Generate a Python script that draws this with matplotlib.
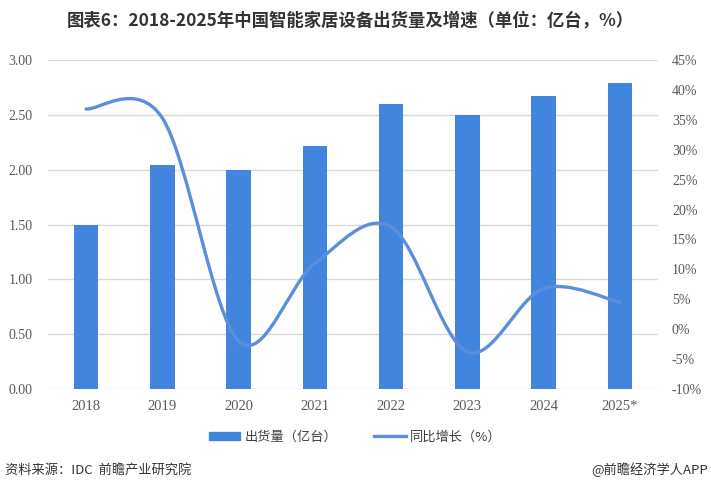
import matplotlib
matplotlib.use("Agg")
import matplotlib.pyplot as plt
import numpy as np
from matplotlib.path import Path
from matplotlib.patches import PathPatch, Patch
from matplotlib.lines import Line2D

plt.rcParams['font.family'] = ['Noto Sans CJK SC', 'DejaVu Sans']

years = ['2018', '2019', '2020', '2021', '2022', '2023', '2024', '2025*']
shipments = [1.50, 2.04, 2.00, 2.22, 2.60, 2.50, 2.67, 2.79]   # 出货量（亿台）
growth = [36.8, 35.3, -2.0, 11.0, 17.1, -3.8, 6.8, 4.5]         # 同比增长（%）

bar_color = '#4285DF'
line_color = '#5B8FDB'
tick_color = '#595959'
serif = ['Liberation Serif', 'DejaVu Serif']

fig = plt.figure(figsize=(7.11, 4.93), dpi=100)
ax = fig.add_axes([48/711, 104/493, 610/711, 329/493])
x = np.arange(len(years))
ax.bar(x, shipments, width=0.32, color=bar_color, zorder=2)
ax.set_xlim(-0.5, len(years) - 0.5)
ax.set_ylim(0, 3.0)
ax.set_yticks(np.arange(0, 3.01, 0.5))
ax.set_yticklabels(['%.2f' % v for v in np.arange(0, 3.01, 0.5)])
ax.set_xticks(x)
ax.set_xticklabels(years)
ax.grid(axis='y', color='#D9D9D9', linewidth=1, zorder=0)
ax.set_axisbelow(True)
for s in ax.spines.values():
    s.set_visible(False)
ax.tick_params(length=0, colors=tick_color, labelsize=10)
ax.tick_params(axis='y', pad=11)
ax.tick_params(axis='x', pad=8, labelsize=10.5)
for lab in ax.get_xticklabels() + ax.get_yticklabels():
    lab.set_family(serif)

# smoothed growth line (Catmull-Rom style bezier, like the Excel smooth line)
ax2 = ax.twinx()
ax2.set_ylim(-10, 45)
ax2.set_yticks(range(-10, 46, 5))
ax2.set_yticklabels(['%d%%' % v for v in range(-10, 46, 5)])
for s in ax2.spines.values():
    s.set_visible(False)
ax2.tick_params(length=0, colors=tick_color, labelsize=10, pad=10)
for lab in ax2.get_yticklabels():
    lab.set_family(serif)

pts = np.column_stack([x, growth]).astype(float)
verts = [tuple(pts[0])]
codes = [Path.MOVETO]
n = len(pts)
for i in range(n - 1):
    p0 = pts[i - 1] if i > 0 else pts[i]
    p1 = pts[i]
    p2 = pts[i + 1]
    p3 = pts[i + 2] if i + 2 < n else pts[i + 1]
    c1 = p1 + (p2 - p0) / 6.0
    c2 = p2 - (p3 - p1) / 6.0
    verts += [tuple(c1), tuple(c2), tuple(p2)]
    codes += [Path.CURVE4] * 3
ax2.add_patch(PathPatch(Path(verts, codes), facecolor='none', edgecolor=line_color,
                        linewidth=2.4, capstyle='round', zorder=3))

fig.text(350/711, 1 - 21/493, '图表6：2018-2025年中国智能家居设备出货量及增速（单位：亿台，%）',
         ha='center', va='center', fontsize=12.5, fontweight='bold', color='#333333')

handles = [Patch(color=bar_color), Line2D([0], [0], color=line_color, linewidth=2.4)]
fig.legend(handles, ['出货量（亿台）', '同比增长（%）'], loc='center',
           bbox_to_anchor=(355/711, 1 - 437/493), ncol=2, frameon=False,
           fontsize=9.5, handlelength=2.4, handleheight=0.6, handletextpad=0.3,
           columnspacing=2.8, labelcolor='#404040')

fig.text(5/711, 1 - 470/493, '资料来源：IDC  前瞻产业研究院', ha='left', va='center',
         fontsize=9.5, color='#333333')
fig.text(708/711, 1 - 470/493, '@前瞻经济学人APP', ha='right', va='center',
         fontsize=9.5, color='#333333')

fig.savefig('out.png', dpi=100)
